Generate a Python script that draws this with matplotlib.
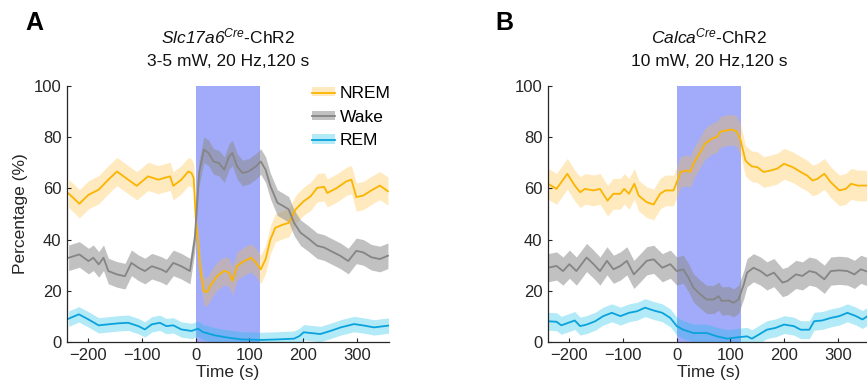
import numpy as np
import matplotlib
matplotlib.use("Agg")
import matplotlib.pyplot as plt
from matplotlib.patches import Patch
from matplotlib.lines import Line2D

plt.rcParams["font.family"] = ["Liberation Sans", "DejaVu Sans"]
plt.rcParams["mathtext.fontset"] = "custom"
# gene names are fully italic (digits too), so map math rm to the italic face
plt.rcParams["mathtext.rm"] = "Liberation Sans:italic"
plt.rcParams["mathtext.it"] = "Liberation Sans:italic"

# ─── data ───────────────────────────────────────────────────
# panel A: Slc17a6-Cre
t_a_nrem = [-237, -217, -200, -181, -163, -147, -132, -110, -89, -70, -48, -42, -27, -14, -8, -4,
            0, 9, 15, 21, 27, 40, 53, 62, 68, 77, 90, 103, 112, 121, 130, 139, 148, 163, 173,
            186, 201, 214, 226, 239, 245, 263, 281, 290, 299, 312, 327, 343, 358]
a_nrem = [58, 54, 57.5, 59.5, 63.4, 66.6, 64.3, 61, 64.7, 63.4, 64.7, 61, 63.4, 66.6, 66, 64,
          47.9, 27, 20, 19.5, 22, 25.8, 27.8, 27.1, 23.9, 29.7, 31.6, 32.9, 31, 28.4, 32.3, 40,
          44.6, 45.9, 46.5, 51.8, 55, 56.9, 60.2, 60.6, 58.2, 60.2, 62.8, 63.4, 56.6, 57.2, 59.2,
          61.1, 58.9]
t_a_wake = [-237, -217, -200, -191, -181, -172, -163, -147, -132, -120, -107, -95, -82, -64, -55,
            -42, -27, -11, -2, 0, 6, 15, 24, 33, 43, 53, 62, 68, 77, 87, 99, 112, 121, 130, 139,
            152, 163, 173, 183, 195, 211, 226, 239, 251, 269, 284, 299, 312, 327, 343, 358]
a_wake = [32.9, 34.2, 31.6, 32.9, 30.3, 32.9, 27.7, 26.4, 25.7, 30.9, 29, 27.7, 29.6, 28.3, 27.3,
          30.9, 29.6, 27.7, 40, 46.6, 66, 75.1, 73.8, 70.5, 69.9, 67.3, 72.5, 73.8, 68.6, 66,
          66.7, 68.6, 70.5, 67.3, 60.9, 54.4, 53.1, 51.8, 46.6, 42.7, 40.2, 37.6, 36.9, 35.6,
          33.7, 31.6, 35.6, 35, 33.1, 32.4, 33.7]
t_a_rem = [-237, -218, -200, -181, -163, -144, -126, -107, -95, -82, -67, -55, -42, -27, -8, 4,
           13, 35, 60, 85, 122, 152, 183, 193, 201, 232, 252, 270, 295, 314, 332, 359]
a_rem = [9.1, 10.8, 8.8, 6.5, 6.9, 7.3, 7.5, 6.2, 4.9, 6.9, 7.5, 6.2, 6.5, 4.9, 4.3, 5.2,
         3.9, 2.6, 1.7, 1.0, 0.8, 1.0, 1.3, 2.3, 3.8, 3.1, 4.4, 5.7, 7.0, 6.4, 5.7, 6.4]
sem_a = [5.5, 5.0, 3.0]  # NREM, Wake, REM (band half-width)

# panel B: Calca-Cre
t_b_nrem = [-240, -224, -204, -190, -180, -171, -155, -143, -129, -118, -105, -98, -89, -79, -71,
            -56, -43, -31, -21, -6, 0, 7, 19, 25, 31, 44, 53, 66, 75, 81, 94, 103, 112, 119, 128,
            134, 140, 150, 162, 175, 187, 200, 216, 231, 243, 253, 262, 275, 287, 303, 315, 325,
            337, 360]
b_nrem = [61.8, 59.8, 65.7, 61.1, 58.5, 59.8, 59.2, 59.8, 55.2, 57.9, 57.9, 59.8, 57.9, 61.8,
          57.2, 54.6, 53.7, 57.9, 59.2, 59.2, 62.4, 66.4, 67, 66.4, 69.6, 74.2, 77.5, 79.5, 80.1,
          82.1, 82.7, 83, 82.1, 78.8, 70.9, 69.6, 68.6, 68.3, 66.4, 67, 67.7, 69.6, 68.3, 66.4,
          65, 63.1, 63.7, 65.7, 62.4, 59.2, 59.8, 61.8, 61.1, 61.1]
t_b_wake = [-240, -224, -212, -200, -187, -168, -155, -143, -130, -118, -105, -93, -80, -68, -56,
            -43, -27, -12, 0, 12, 22, 31, 44, 56, 69, 78, 84, 97, 106, 115, 125, 131, 143, 156,
            168, 181, 197, 206, 222, 234, 247, 259, 275, 287, 303, 318, 331, 343, 360]
b_wake = [29, 29.7, 27.7, 30.4, 27.7, 33, 30.4, 27.7, 31.7, 28.4, 29.7, 31.7, 26.4, 29, 31.7,
          32.3, 29, 30.4, 27.7, 28.4, 25.1, 21.2, 18.6, 16.6, 16.6, 17.9, 16, 16.2, 15.3, 16.6,
          22.5, 27.1, 29, 27.7, 25.8, 27.1, 23.2, 23.8, 26.4, 25.8, 27.7, 27.1, 24.5, 27.7, 28,
          27.7, 26.4, 28.4, 27.1]
t_b_rem = [-240, -224, -215, -202, -190, -180, -168, -152, -137, -121, -105, -89, -74, -59, -43,
           -27, -12, 0, 12, 31, 56, 75, 94, 112, 131, 140, 153, 168, 184, 200, 218, 231, 247,
           256, 271, 287, 303, 318, 334, 346, 360]
b_rem = [8.1, 7.9, 6.5, 7.5, 8.4, 6.2, 6.8, 8.1, 10.1, 11.4, 10.1, 11.4, 12, 13.4, 12.3, 11.4,
         9.4, 6.2, 4.8, 3.5, 3.5, 2.2, 1.3, 1.8, 2.2, 1.3, 2.9, 4.8, 5.5, 6.8, 6.2, 4.8, 4.8,
         8.1, 8.4, 9.4, 10.1, 11.4, 10.1, 8.8, 10.7]
sem_b = [6.0, 5.5, 3.5]

stim_window = (0, 120)
states = ["NREM", "Wake", "REM"]
titles = [(r"$\mathrm{Slc17a6}^{\mathrm{Cre}}$-ChR2", "3-5 mW, 20 Hz,120 s"),
          (r"$\mathrm{Calca}^{\mathrm{Cre}}$-ChR2", "10 mW, 20 Hz,120 s")]

line_c = ["#FBB400", "#858585", "#0AA2DC"]
band_c = ["#FFBE3C", "#8E8E8E", "#18C0EA"]
band_a = [0.33, 0.55, 0.33]
stim_c = "#A1ABFA"
ink = "#262626"

fig = plt.figure(figsize=(8.67, 3.88), dpi=100)
ax_a = fig.add_axes([0.0773, 0.1186, 0.3714, 0.6598])
ax_b = fig.add_axes([0.632, 0.1186, 0.3714, 0.6598])

panels = [
    (ax_a, [(t_a_nrem, a_nrem), (t_a_wake, a_wake), (t_a_rem, a_rem)], sem_a),
    (ax_b, [(t_b_nrem, b_nrem), (t_b_wake, b_wake), (t_b_rem, b_rem)], sem_b),
]

for k, (ax, series, sem) in enumerate(panels):
    ax.axvspan(stim_window[0], stim_window[1], ymin=0, ymax=1, color=stim_c, lw=0, zorder=0)
    for i, (t, v) in enumerate(series):
        t = np.array(t, dtype=float)
        v = np.array(v, dtype=float)
        ax.fill_between(t, v - sem[i], v + sem[i], color=band_c[i], alpha=band_a[i], lw=0, zorder=1)
        ax.plot(t, v, color=line_c[i], lw=1.3, zorder=2)

    ax.set_xlim(-240, 360)
    ax.set_ylim(0, 100)
    ax.set_xticks([-200, -100, 0, 100, 200, 300])
    ax.set_yticks([0, 20, 40, 60, 80, 100])
    ax.tick_params(direction="in", length=3, width=0.8, labelsize=12, colors=ink, pad=4)
    for s in ["top", "right"]:
        ax.spines[s].set_visible(False)
    for s in ["left", "bottom"]:
        ax.spines[s].set_color(ink)
        ax.spines[s].set_linewidth(0.9)
    ax.set_xlabel("Time (s)", fontsize=12.5, color=ink, labelpad=1.5)

    l1, l2 = titles[k]
    ax.text(0.5, 1.168, l1, transform=ax.transAxes, ha="center", va="baseline", fontsize=12.5, color="#111111")
    ax.text(0.5, 1.078, l2, transform=ax.transAxes, ha="center", va="baseline", fontsize=12.5, color="#111111")

ax_a.set_ylabel("Percentage (%)", fontsize=12.5, color=ink, labelpad=4)

handles = [(Patch(facecolor=band_c[i], alpha=band_a[i], lw=0), Line2D([], [], color=line_c[i], lw=1.3))
           for i in range(3)]
ax_a.legend(handles, states, loc="upper left", bbox_to_anchor=(0.76, 1.0), frameon=False,
            fontsize=12.5, handlelength=1.35, handleheight=0.45, handletextpad=0.25,
            labelspacing=0.5, borderpad=0, borderaxespad=0)

fig.text(25 / 867, 1 - 30 / 388, "A", fontsize=18, fontweight="bold", va="baseline")
fig.text(495 / 867, 1 - 30 / 388, "B", fontsize=18, fontweight="bold", va="baseline")

fig.savefig("out.png", dpi=100)
